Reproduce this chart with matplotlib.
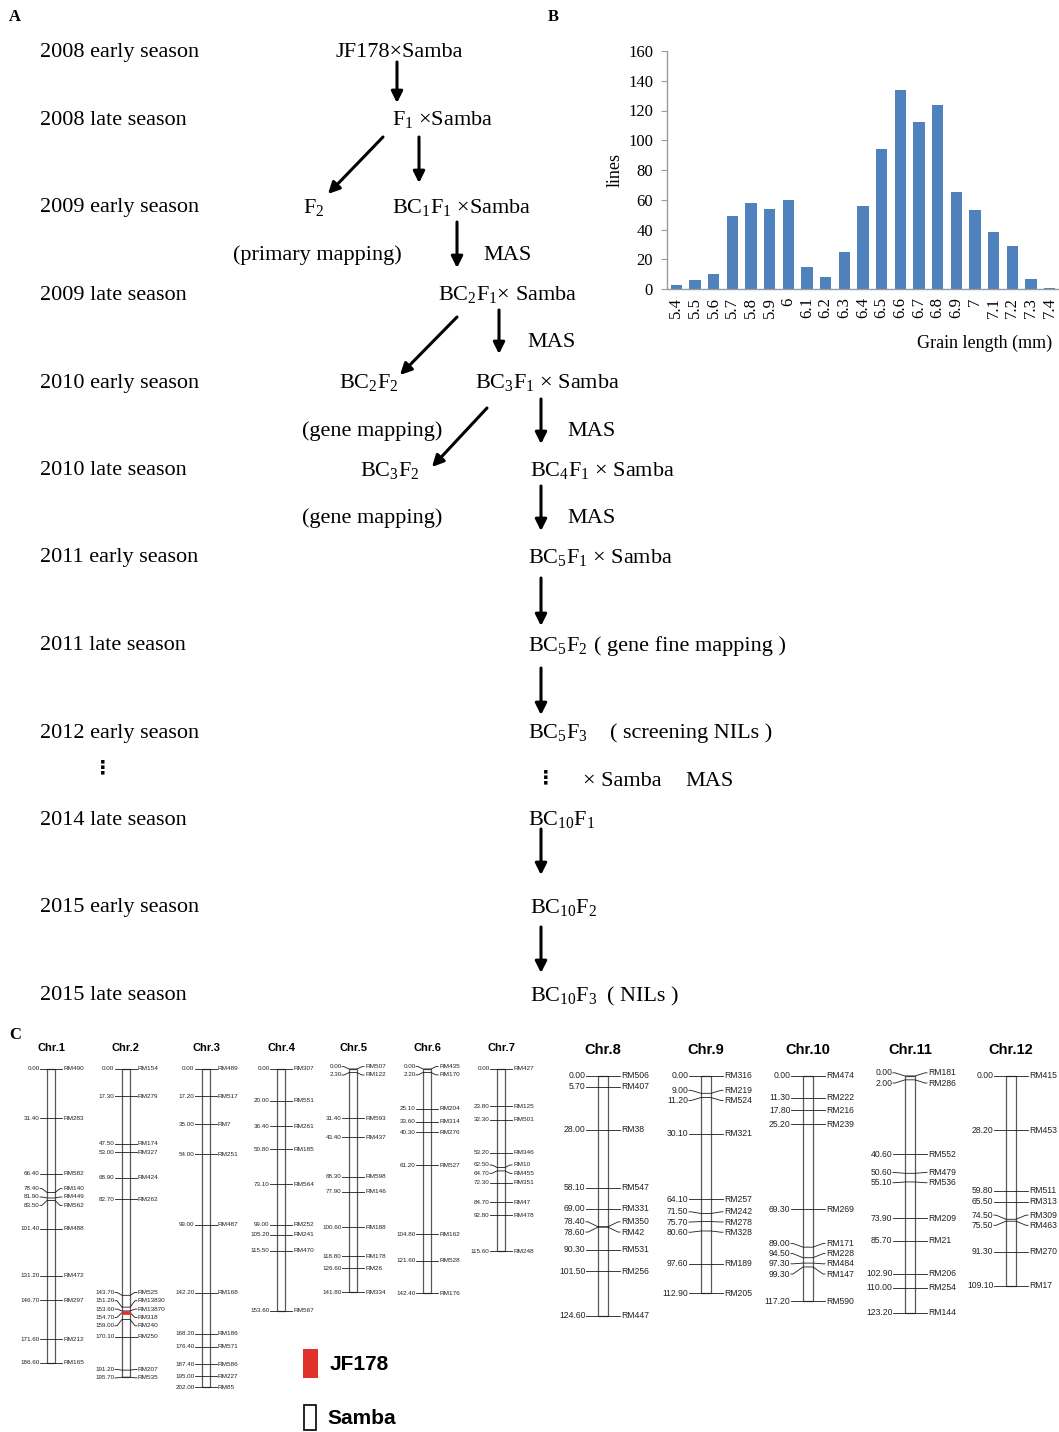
import numpy as np
import matplotlib
matplotlib.use('Agg')
import matplotlib.pyplot as plt
from matplotlib.patches import Rectangle

plt.rcParams['mathtext.fontset'] = 'custom'
plt.rcParams['mathtext.rm'] = 'Liberation Serif'
plt.rcParams['mathtext.it'] = 'Liberation Serif:italic'
plt.rcParams['mathtext.bf'] = 'Liberation Serif:bold'
plt.rcParams['mathtext.default'] = 'rm'

W, H = 1059, 1432
SERIF = ['Liberation Serif', 'Noto Sans CJK SC', 'DejaVu Sans']
SANS = ['Liberation Sans', 'DejaVu Sans']

# ---- panel A: breeding scheme ----
seasons = ['2008 early season', '2008 late season', '2009 early season', '2009 late season',
           '2010 early season', '2010 late season', '2011 early season', '2011 late season',
           '2012 early season', '2014 late season', '2015 early season', '2015 late season']
season_base = [57, 125, 212, 300, 388, 475, 562, 650, 738, 825, 912, 1000]

# (text, x left, baseline)
scheme_text = [
    ('JF178×Samba', 336, 57),
    ('F$_1$ ×Samba', 392, 125),
    ('F$_2$', 303, 213),
    ('BC$_1$F$_1$ ×Samba', 392, 213),
    ('(primary mapping)', 233, 260),
    ('MAS', 483, 260),
    ('BC$_2$F$_1$× Samba', 438, 300),
    ('MAS', 527, 347),
    ('BC$_2$F$_2$', 339, 388),
    ('BC$_3$F$_1$ × Samba', 475, 388),
    ('(gene mapping)', 302, 436),
    ('MAS', 567, 436),
    ('BC$_3$F$_2$', 360, 476),
    ('BC$_4$F$_1$ × Samba', 530, 476),
    ('(gene mapping)', 302, 523),
    ('MAS', 567, 523),
    ('BC$_5$F$_1$ × Samba', 528, 563),
    ('BC$_5$F$_2$', 528, 651),
    ('( gene fine mapping )', 594, 651),
    ('BC$_5$F$_3$', 528, 738),
    ('( screening NILs )', 610, 738),
    ('× Samba', 583, 786),
    ('MAS', 685, 786),
    ('BC$_{10}$F$_1$', 528, 825),
    ('BC$_{10}$F$_2$', 530, 913),
    ('BC$_{10}$F$_3$', 530, 1001),
    ('( NILs )', 607, 1001),
]

# (start, tip)
arrows = [
    ((397, 62), (397, 103)),
    ((383, 137), (328, 194)),
    ((419, 137), (419, 183)),
    ((457, 222), (457, 268)),
    ((457, 317), (400, 375)),
    ((499, 310), (499, 354)),
    ((487, 408), (432, 467)),
    ((541, 399), (541, 444)),
    ((541, 486), (541, 531)),
    ((541, 578), (541, 626)),
    ((541, 668), (541, 715)),
    ((541, 829), (541, 875)),
    ((541, 927), (541, 973)),
]

# ---- panel B: grain length distribution ----
grain_length = ['5.4', '5.5', '5.6', '5.7', '5.8', '5.9', '6', '6.1', '6.2', '6.3', '6.4',
                '6.5', '6.6', '6.7', '6.8', '6.9', '7', '7.1', '7.2', '7.3', '7.4']
line_counts = [3, 6, 10, 49, 58, 54, 60, 15, 8, 25, 56, 94, 134, 112, 124, 65, 53, 38, 29, 7, 1]

# ---- panel C: linkage map ----
chr_names = ['Chr.%d' % i for i in range(1, 13)]
chr_pos = [
    [0.0, 31.4, 66.4, 78.4, 81.9, 83.5, 101.4, 131.2, 146.7, 171.6, 186.6],
    [0.0, 17.3, 47.5, 53.0, 68.9, 82.7, 143.7, 151.2, 153.6, 154.7, 159.0, 170.1, 191.2, 195.7],
    [0.0, 17.2, 35.0, 54.0, 99.0, 142.2, 168.2, 176.4, 187.4, 195.0, 202.0],
    [0.0, 20.0, 36.4, 50.8, 73.1, 99.0, 105.2, 115.5, 153.6],
    [0.0, 2.3, 31.4, 43.4, 68.3, 77.9, 100.6, 118.8, 126.6, 141.8],
    [0.0, 2.2, 25.1, 33.6, 40.3, 61.2, 104.8, 121.6, 142.4],
    [0.0, 23.8, 32.3, 53.2, 62.5, 64.7, 72.3, 84.7, 92.8, 115.6],
    [0.0, 5.7, 28.0, 58.1, 69.0, 78.4, 78.6, 90.3, 101.5, 124.6],
    [0.0, 9.0, 11.2, 30.1, 64.1, 71.5, 75.7, 80.6, 97.6, 112.9],
    [0.0, 11.3, 17.8, 25.2, 69.3, 89.0, 94.5, 97.3, 99.3, 117.2],
    [0.0, 2.0, 40.6, 50.6, 55.1, 73.9, 85.7, 102.9, 110.0, 123.2],
    [0.0, 28.2, 59.8, 65.5, 74.5, 75.5, 91.3, 109.1],
]
chr_markers = [
    ['RM490', 'RM283', 'RM582', 'RM140', 'RM449', 'RM562', 'RM488', 'RM472', 'RM297', 'RM212', 'RM165'],
    ['RM154', 'RM279', 'RM174', 'RM327', 'RM424', 'RM262', 'RM525', 'RM13830', 'RM13870', 'RM318',
     'RM240', 'RM250', 'RM207', 'RM535'],
    ['RM489', 'RM517', 'RM7', 'RM251', 'RM487', 'RM168', 'RM186', 'RM571', 'RM586', 'RM227', 'RM85'],
    ['RM307', 'RM551', 'RM261', 'RM185', 'RM564', 'RM252', 'RM241', 'RM470', 'RM567'],
    ['RM507', 'RM122', 'RM593', 'RM437', 'RM598', 'RM146', 'RM188', 'RM178', 'RM26', 'RM334'],
    ['RM435', 'RM170', 'RM204', 'RM314', 'RM276', 'RM527', 'RM162', 'RM528', 'RM176'],
    ['RM427', 'RM125', 'RM501', 'RM346', 'RM10', 'RM455', 'RM351', 'RM47', 'RM478', 'RM248'],
    ['RM506', 'RM407', 'RM38', 'RM547', 'RM331', 'RM350', 'RM42', 'RM531', 'RM256', 'RM447'],
    ['RM316', 'RM219', 'RM524', 'RM321', 'RM257', 'RM242', 'RM278', 'RM328', 'RM189', 'RM205'],
    ['RM474', 'RM222', 'RM216', 'RM239', 'RM269', 'RM171', 'RM228', 'RM484', 'RM147', 'RM590'],
    ['RM181', 'RM286', 'RM552', 'RM479', 'RM536', 'RM209', 'RM21', 'RM206', 'RM254', 'RM144'],
    ['RM415', 'RM453', 'RM511', 'RM313', 'RM309', 'RM463', 'RM270', 'RM17'],
]
qtl_chr = 2
qtl_start, qtl_end = 153.6, 155.6

chr_x = [51, 126, 206, 281, 353, 427, 501, 603, 706, 808, 910, 1011]


def px_axes(fig, x0, y0, x1, y1):
    return fig.add_axes([x0 / W, 1 - y1 / H, (x1 - x0) / W, (y1 - y0) / H])


def spread(pos, gap):
    # push labels apart so that neighbours are at least `gap` apart
    groups = [[p] for p in pos]

    def place(g):
        c = np.mean(g)
        return [c + (k - (len(g) - 1) / 2) * gap for k in range(len(g))]

    changed = True
    while changed:
        changed = False
        for j in range(len(groups) - 1):
            a, b = place(groups[j]), place(groups[j + 1])
            if b[0] - a[-1] < gap - 1e-9:
                groups[j] = groups[j] + groups[j + 1]
                del groups[j + 1]
                changed = True
                break
    out = []
    for g in groups:
        out += place(g)
    return out


def draw_chr(ax, xc, pos, names, bw, ext, gap, fs, fs_left):
    xl, xr = xc - bw / 2, xc + bw / 2
    ax.add_patch(Rectangle((xl, pos[0]), bw, pos[-1] - pos[0], fill=False,
                           ec='#5a5a5a', lw=0.9, zorder=2))
    ylab = spread(pos, gap)
    for p, yl, nm in zip(pos, ylab, names):
        ax.plot([xl - ext, xl - ext + 2, xl, xr, xr + ext - 2, xr + ext],
                [yl, yl, p, p, yl, yl], color='#1a1a1a', lw=0.6, zorder=3)
        ax.text(xl - ext - 0.5, yl, '%.2f' % p, ha='right', va='center',
                fontsize=fs_left, family=SANS, color='#222222')
        ax.text(xr + ext + 1, yl, nm, ha='left', va='center',
                fontsize=fs, family=SANS, color='#222222')


fig = plt.figure(figsize=(W / 100, H / 100), dpi=100)

# overlay axes in pixel units for the scheme, labels and legend
ax0 = fig.add_axes([0, 0, 1, 1])
ax0.set_xlim(0, W)
ax0.set_ylim(H, 0)
ax0.axis('off')

for t, (x, y) in zip(['A', 'B', 'C'], [(15, 17), (553, 17), (15, 1035)]):
    ax0.text(x, y, t, ha='center', va='center', fontsize=12, fontweight='bold', family=SERIF)

for s, yb in zip(seasons, season_base):
    ax0.text(40, yb, s, ha='left', va='baseline', fontsize=16, family=SERIF)
for t, x, yb in scheme_text:
    ax0.text(x, yb, t, ha='left', va='baseline', fontsize=16, family=SERIF)
for (x, y) in [(103, 768), (546, 778)]:
    ax0.text(x, y, '⋮', ha='center', va='center', fontsize=14, fontweight='bold',
             family=['DejaVu Sans'])
for st, tip in arrows:
    ax0.annotate('', xy=tip, xytext=st,
                 arrowprops=dict(arrowstyle='-|>', color='k', lw=2.2, mutation_scale=17,
                                 shrinkA=0, shrinkB=0))

# chromosome titles
for i, (nm, xc) in enumerate(zip(chr_names, chr_x)):
    if i < 7:
        ax0.text(xc, 1048, nm, ha='center', va='center', fontsize=8, fontweight='bold', family=SANS)
    else:
        ax0.text(xc, 1050, nm, ha='center', va='center', fontsize=10.5, fontweight='bold', family=SANS)

# legend
ax0.add_patch(Rectangle((303, 1349), 15, 29, fc='#e0312b', ec='none'))
ax0.text(330, 1365, 'JF178', ha='left', va='center', fontsize=15, fontweight='bold', family=SANS)
ax0.add_patch(Rectangle((304, 1405), 12, 25, fill=False, ec='k', lw=1.2))
ax0.text(327, 1419, 'Samba', ha='left', va='center', fontsize=15, fontweight='bold', family=SANS)

# ---- panel B ----
axB = px_axes(fig, 667, 51, 1058, 289)
xb = np.arange(len(grain_length))
axB.bar(xb, line_counts, width=0.6, color='#4f81bd', zorder=2)
axB.set_xlim(-0.5, len(grain_length) - 0.55)
axB.set_ylim(0, 160)
axB.set_yticks(np.arange(0, 161, 20))
axB.set_xticks(xb)
axB.set_xticklabels(grain_length, rotation=90, va='top', ha='center')
for lab in axB.get_xticklabels() + axB.get_yticklabels():
    lab.set_family(SERIF)
    lab.set_fontsize(12)
axB.tick_params(axis='x', length=0, pad=6)
axB.tick_params(axis='y', length=4, width=0.8, color='#9a9a9a', pad=6)
for sp in ['top', 'right']:
    axB.spines[sp].set_visible(False)
for sp in ['left', 'bottom']:
    axB.spines[sp].set_color('#9a9a9a')
    axB.spines[sp].set_linewidth(1.0)
axB.patch.set_alpha(0)
ax0.text(615, 170, 'lines', rotation=90, ha='center', va='center', fontsize=13, family=SERIF)
ax0.text(985, 343, 'Grain length (mm)', ha='center', va='center', fontsize=13, family=SERIF)

# ---- panel C ----
s1, s2 = 1.575, 1.923
axC1 = px_axes(fig, 0, 1040, 560, 1432)
axC1.set_xlim(0, 560)
axC1.set_ylim((1432 - 1069) / s1, (1040 - 1069) / s1)
axC2 = px_axes(fig, 560, 1040, 1059, 1432)
axC2.set_xlim(560, 1059)
axC2.set_ylim((1432 - 1076) / s2, (1040 - 1076) / s2)
for a in (axC1, axC2):
    a.axis('off')
    a.patch.set_alpha(0)

for i in range(12):
    if i < 7:
        draw_chr(axC1, chr_x[i], chr_pos[i], chr_markers[i], 8, 7, 5.3, 4.6, 4.5)
    else:
        draw_chr(axC2, chr_x[i], chr_pos[i], chr_markers[i], 10, 12, 5.3, 6.2, 6.2)

xq = chr_x[qtl_chr - 1]
axC1.add_patch(Rectangle((xq - 4, qtl_start), 8, qtl_end - qtl_start, fc='#e0312b',
                         ec='#e0312b', lw=0.5, zorder=4))

fig.savefig('out.png', dpi=100)
